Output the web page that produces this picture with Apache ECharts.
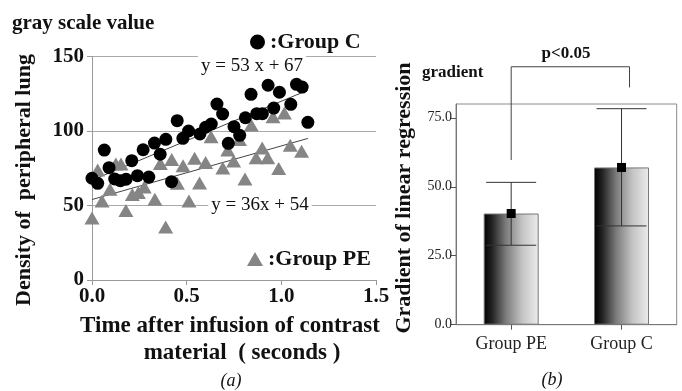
<!DOCTYPE html>
<html>
<head>
<meta charset="utf-8">
<script src="https://cdn.jsdelivr.net/npm/echarts@6/dist/echarts.min.js"></script>
<style>
html,body{margin:0;padding:0;background:#fff;}
#chart{width:682px;height:391px;}
</style>
</head>
<body>
<div id="chart"></div>
<script>
// ---------- Panel (a) data ----------
var groupC = [
  [0.00,68.3],[0.03,64.9],[0.065,87.2],[0.09,75.4],[0.12,67.8],[0.15,66.6],[0.18,67.6],
  [0.21,80.1],[0.24,70.0],[0.27,87.4],[0.30,69.1],[0.33,91.9],[0.36,84.4],[0.39,94.4],
  [0.42,66.0],[0.45,106.9],[0.48,95.1],[0.51,100.0],[0.57,98.0],[0.60,102.5],[0.63,104.7],
  [0.66,118.1],[0.69,111.4],[0.72,91.7],[0.75,102.9],[0.78,97.1],[0.81,108.9],[0.84,124.6],
  [0.87,111.6],[0.90,111.6],[0.93,130.7],[0.96,115.4],[0.99,126.0],[1.05,117.9],[1.08,131.3],
  [1.11,129.5],[1.14,105.8]
];
var groupPE = [
  [0.00,41.6],[0.03,73.8],[0.053,53.0],[0.095,60.9],[0.126,77.9],[0.153,77.9],[0.179,46.6],
  [0.213,57.4],[0.245,58.7],[0.276,62.4],[0.332,54.2],[0.361,78.2],[0.389,35.6],[0.421,80.9],
  [0.451,64.9],[0.481,76.7],[0.512,53.0],[0.542,81.7],[0.568,65.1],[0.600,78.9],[0.629,96.2],
  [0.691,75.2],[0.717,87.2],[0.748,79.9],[0.779,94.3],[0.808,67.8],[0.841,104.0],[0.867,82.0],
  [0.899,88.6],[0.928,82.0],[0.956,109.6],[0.986,74.8],[1.016,112.1],[1.047,90.4],[1.107,86.4]
];
var fitC  = [[0, 67], [1.14, 127.4]];   // y = 53x + 67
var fitPE = [[0, 54], [1.14, 95.0]];    // y = 36x + 54
var xTicksA = [0, 0.5, 1.0, 1.5];
var yTicksA = [0, 50, 100, 150];

// ---------- Panel (b) data ----------
var groups = ['Group PE', 'Group C'];
var gradientMean = [40.3, 57.0];
var errLow  = [28.8, 35.8];
var errHigh = [51.6, 78.3];
var yTicksB = [0, 25, 50, 75];
var bracketLegs = [59.7, 86.0];   // bottom of left / right bracket legs
var bracketTop = 93.5;

var serif = 'Liberation Serif';
var chart = echarts.init(document.getElementById('chart'), null, {renderer:'canvas'});

var errData = groups.map(function(g,i){ return [i, errLow[i], errHigh[i]]; });
var meanData = groups.map(function(g,i){ return [i, gradientMean[i]]; });

var option = {
  backgroundColor:'#fff',
  animation:false,
  grid:[
    {left:92, top:56.5, width:284, height:223.5, containLabel:false},
    {left:456, top:104, width:220.7, height:220.7, show:true, borderColor:'#8a8a8a', borderWidth:1, backgroundColor:'transparent'}
  ],
  legend:[
    {data:['Group C'], left:245, top:26, icon:'circle', itemWidth:15, itemHeight:15, itemGap:2,
     formatter:':Group C', textStyle:{fontFamily:serif, fontWeight:'bold', fontSize:22, color:'#111'}},
    {data:['Group PE'], left:242, top:243, icon:'triangle', itemWidth:16, itemHeight:14, itemGap:2,
     formatter:':Group PE', textStyle:{fontFamily:serif, fontWeight:'bold', fontSize:22, color:'#111'}}
  ],
  xAxis:[
    {gridIndex:0, type:'value', min:0, max:1.5, interval:0.5,
     axisLine:{show:true, onZero:false, lineStyle:{color:'#999'}},
     axisTick:{show:true, length:5, lineStyle:{color:'#999'}},
     splitLine:{show:false},
     axisLabel:{margin:6, fontFamily:serif, fontWeight:'bold', fontSize:21, color:'#111',
       formatter:function(v){ return v.toFixed(1); }}},
    {gridIndex:1, type:'category', data:groups,
     axisLine:{show:true, lineStyle:{color:'#777'}},
     axisTick:{show:true, alignWithLabel:true, length:5, lineStyle:{color:'#555'}},
     axisLabel:{margin:11, fontFamily:serif, fontSize:18, color:'#222'}}
  ],
  yAxis:[
    {gridIndex:0, type:'value', min:0, max:150, interval:50,
     axisLine:{show:true, lineStyle:{color:'#999'}},
     axisTick:{show:true, length:5, lineStyle:{color:'#999'}},
     splitLine:{show:true, lineStyle:{color:'#aaa', width:1}},
     axisLabel:{margin:8, fontFamily:serif, fontWeight:'bold', fontSize:21, color:'#111'}},
    {gridIndex:1, type:'value', min:0, max:80, interval:25,
     axisLine:{show:true, lineStyle:{color:'#777'}},
     axisTick:{show:true, length:5, customValues:yTicksB, lineStyle:{color:'#555'}},
     splitLine:{show:false},
     axisLabel:{margin:4, customValues:yTicksB, fontFamily:serif, fontSize:14, color:'#222',
       formatter:function(v){ return (v % 25 === 0) ? v.toFixed(1) : ''; }}}
  ],
  series:[
    {name:'fitC', type:'line', xAxisIndex:0, yAxisIndex:0, data:fitC, showSymbol:false, symbol:'none',
     lineStyle:{color:'#444', width:1}, z:3, silent:true},
    {name:'fitPE', type:'line', xAxisIndex:0, yAxisIndex:0, data:fitPE, showSymbol:false, symbol:'none',
     lineStyle:{color:'#444', width:1}, z:3, silent:true},
    {name:'Group PE', type:'scatter', xAxisIndex:0, yAxisIndex:0, data:groupPE, symbol:'triangle',
     symbolSize:[15,13], itemStyle:{color:'#858585', opacity:1}, z:4},
    {name:'Group C', type:'scatter', xAxisIndex:0, yAxisIndex:0, data:groupC, symbol:'circle',
     symbolSize:13, itemStyle:{color:'#000', opacity:1}, z:5},
    {name:'bars', type:'bar', xAxisIndex:1, yAxisIndex:1, data:gradientMean, barWidth:55,
     itemStyle:{
       color:new echarts.graphic.LinearGradient(0,0,1,0,[
         {offset:0, color:'#000'},{offset:0.15, color:'#222'},{offset:0.4, color:'#7a7a7a'},
         {offset:0.7, color:'#c4c4c4'},{offset:1, color:'#ececec'}]),
       borderColor:'#777', borderWidth:1}, z:2},
    {name:'err', type:'custom', xAxisIndex:1, yAxisIndex:1, data:errData, encode:{x:0, y:[1,2]}, z:6, clip:false,
     renderItem:function(params, api){
       var lo = api.coord([api.value(0), api.value(1)]);
       var hi = api.coord([api.value(0), api.value(2)]);
       var hw = 25, st = {stroke:'#333', lineWidth:1};
       return {type:'group', children:[
         {type:'line', shape:{x1:lo[0], y1:lo[1], x2:hi[0], y2:hi[1]}, style:st},
         {type:'line', shape:{x1:lo[0]-hw, y1:lo[1], x2:lo[0]+hw, y2:lo[1]}, style:st},
         {type:'line', shape:{x1:hi[0]-hw, y1:hi[1], x2:hi[0]+hw, y2:hi[1]}, style:st}
       ]};
     }},
    {name:'mean', type:'scatter', xAxisIndex:1, yAxisIndex:1, data:meanData, symbol:'rect', symbolSize:9,
     itemStyle:{color:'#000', opacity:1}, z:7},
    {name:'bracket', type:'custom', xAxisIndex:1, yAxisIndex:1, clip:false, z:6,
     data:[[0, bracketLegs[0], 1, bracketLegs[1], bracketTop]], encode:{x:0, y:1},
     renderItem:function(params, api){
       var a = api.coord([api.value(0), api.value(1)]);
       var b = api.coord([api.value(2), api.value(3)]);
       var t = api.coord([api.value(0), api.value(4)]);
       var bx = b[0] + 8;
       return {type:'polyline', shape:{points:[[a[0],a[1]],[a[0],t[1]],[bx,t[1]],[bx,b[1]]]},
               style:{stroke:'#444', lineWidth:1, fill:null}};
     }}
  ],
  graphic:[
    {type:'text', left:12, top:13, style:{text:'gray scale value', fontFamily:serif, fontWeight:'bold', fontSize:21, fill:'#111'}},
    {type:'text', x:24, y:180, rotation:Math.PI/2,
     style:{text:'Density of  peripheral lung', fontFamily:serif, fontWeight:'bold', fontSize:22, fill:'#111', align:'center', verticalAlign:'middle'}},
    {type:'text', x:230, y:326, style:{text:'Time after infusion of contrast', fontFamily:serif, fontWeight:'bold', fontSize:23, fill:'#111', align:'center', verticalAlign:'middle'}},
    {type:'text', x:242, y:353, style:{text:'material  ( seconds )', fontFamily:serif, fontWeight:'bold', fontSize:23, fill:'#111', align:'center', verticalAlign:'middle'}},
    {type:'text', x:231, y:381, style:{text:'(a)', fontFamily:serif, fontStyle:'italic', fontSize:18, fill:'#111', align:'center', verticalAlign:'middle'}},
    {type:'text', x:252, y:66, z:10, style:{text:'y = 53 x + 67', fontFamily:serif, fontSize:19, fill:'#111', align:'center', verticalAlign:'middle', backgroundColor:'#fff', padding:[1,3,1,3]}},
    {type:'text', x:260, y:205, z:10, style:{text:'y = 36x + 54', fontFamily:serif, fontSize:19, fill:'#111', align:'center', verticalAlign:'middle', backgroundColor:'#fff', padding:[1,3,1,3]}},
    {type:'text', x:566, y:54, style:{text:'p<0.05', fontFamily:serif, fontWeight:'bold', fontSize:17, fill:'#111', align:'center', verticalAlign:'middle'}},
    {type:'text', x:422, y:73, style:{text:'gradient', fontFamily:serif, fontWeight:'bold', fontSize:17, fill:'#111', align:'left', verticalAlign:'middle'}},
    {type:'text', x:404, y:198, rotation:Math.PI/2,
     style:{text:'Gradient of linear regression', fontFamily:serif, fontWeight:'bold', fontSize:22, fill:'#111', align:'center', verticalAlign:'middle'}},
    {type:'text', x:552, y:380, style:{text:'(b)', fontFamily:serif, fontStyle:'italic', fontSize:18, fill:'#111', align:'center', verticalAlign:'middle'}}
  ]
};
chart.setOption(option);
</script>
</body>
</html>
